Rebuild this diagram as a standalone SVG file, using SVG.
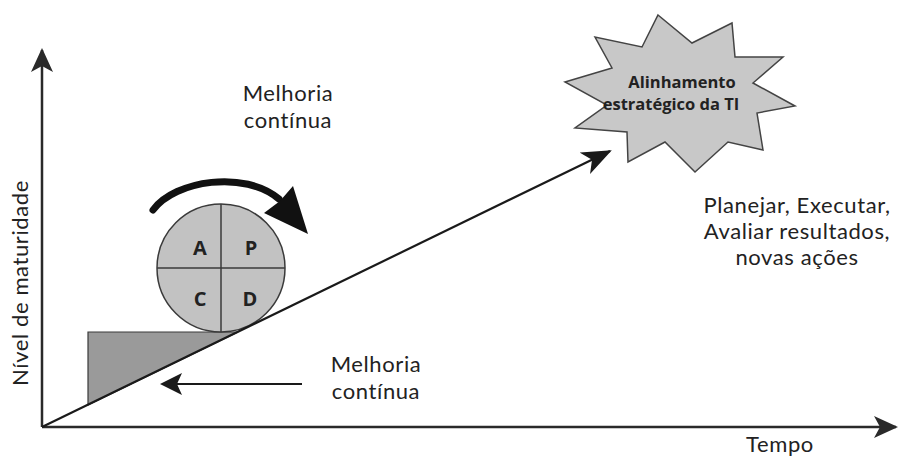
<svg xmlns="http://www.w3.org/2000/svg" width="900" height="458" viewBox="0 0 900 458">
  <style>
    .lbl { font-family: Lato, "Open Sans", "Liberation Sans", sans-serif; font-size: 22px; letter-spacing: 0.6px; fill: #222; }
    .bold { font-family: "Open Sans", "Noto Sans", "Liberation Sans", sans-serif; font-weight: bold; fill: #222; }
    .axis { stroke: #2a2a2a; stroke-width: 2.5; fill: none; }
    .line { stroke: #1a1a1a; stroke-width: 2.2; fill: none; }
  </style>
  <defs>
    <marker id="axisHead" viewBox="0 0 24 22" refX="22" refY="11" markerWidth="24" markerHeight="22" markerUnits="userSpaceOnUse" orient="auto">
      <path d="M0,0 L24,11 L0,22 L6,11 Z" fill="#2a2a2a"/>
    </marker>
    <marker id="slopeHead" viewBox="0 0 30 24" refX="28" refY="12" markerWidth="30" markerHeight="24" markerUnits="userSpaceOnUse" orient="auto">
      <path d="M0,0 L30,12 L0,24 L8,12 Z" fill="#1a1a1a"/>
    </marker>
    <marker id="backHead" viewBox="0 0 22 22" refX="20" refY="11" markerWidth="22" markerHeight="22" markerUnits="userSpaceOnUse" orient="auto">
      <path d="M0,0 L22,11 L0,22 L5,11 Z" fill="#1a1a1a"/>
    </marker>
  </defs>

  <rect width="900" height="458" fill="#ffffff"/>

  <!-- wedge under the wheel -->
  <g id="wedge">
    <polygon points="88,332 238,332 88,405" fill="#9a9a9a" stroke="#3a3a3a" stroke-width="1.2"/>
  </g>

  <!-- PDCA wheel -->
  <g id="pdca">
    <circle cx="221" cy="268" r="64" fill="#c2c2c2" stroke="#3a3a3a" stroke-width="1.5"/>
    <line x1="221" y1="204" x2="221" y2="332" stroke="#3a3a3a" stroke-width="1.5"/>
    <line x1="157" y1="268" x2="285" y2="268" stroke="#3a3a3a" stroke-width="1.5"/>
    <text class="bold" font-size="20" x="200" y="255" text-anchor="middle">A</text>
    <text class="bold" font-size="20" x="251" y="255" text-anchor="middle">P</text>
    <text class="bold" font-size="20" x="200" y="306" text-anchor="middle">C</text>
    <text class="bold" font-size="20" x="250" y="306" text-anchor="middle">D</text>
  </g>

  <!-- rotation arrow over the wheel -->
  <g id="rotation">
    <path d="M153,210 C175,180 245,170 279,199" stroke="#111" stroke-width="7" fill="none" stroke-linecap="round"/>
    <polygon points="308,234 264,213 280,201 293,186" fill="#111"/>
  </g>

  <!-- target star -->
  <g id="target">
    <polygon points="658,15 692,43 732,23 735,57 783,57 753,83 795,106 757,113 763,150 728,142 695,172 665,142 628,162 627,132 575,128 607,105 565,82 612,68 595,37 642,47" fill="#c8c8c8" stroke="#444" stroke-width="1.5"/>
    <text class="bold" font-size="16.5" x="682" y="88" text-anchor="middle">Alinhamento</text>
    <text class="bold" font-size="16.5" x="671" y="110" text-anchor="middle">estratégico da TI</text>
  </g>

  <!-- connectors: axes, slope and back arrow -->
  <g id="connectors">
    <line class="axis" x1="42" y1="427" x2="42" y2="50" marker-end="url(#axisHead)"/>
    <line class="axis" x1="42" y1="427" x2="896" y2="427" marker-end="url(#axisHead)"/>
    <line class="line" x1="42" y1="427" x2="610" y2="151" marker-end="url(#slopeHead)"/>
    <line class="line" x1="302" y1="384" x2="162" y2="384" stroke-width="2.5" marker-end="url(#backHead)"/>
  </g>

  <!-- labels -->
  <g id="labels">
    <text class="lbl" x="288" y="101" text-anchor="middle">Melhoria</text>
    <text class="lbl" x="288" y="128" text-anchor="middle">contínua</text>
    <text class="lbl" x="376" y="372" text-anchor="middle">Melhoria</text>
    <text class="lbl" x="376" y="399" text-anchor="middle">contínua</text>
    <text class="lbl" x="797" y="213" text-anchor="middle">Planejar, Executar,</text>
    <text class="lbl" x="797" y="239" text-anchor="middle">Avaliar resultados,</text>
    <text class="lbl" x="797" y="265" text-anchor="middle">novas ações</text>
    <text class="lbl" font-size="21" letter-spacing="0.3" x="780" y="452" text-anchor="middle">Tempo</text>
    <text class="lbl" transform="translate(28,283) rotate(-90)" text-anchor="middle">Nível de maturidade</text>
  </g>
</svg>
